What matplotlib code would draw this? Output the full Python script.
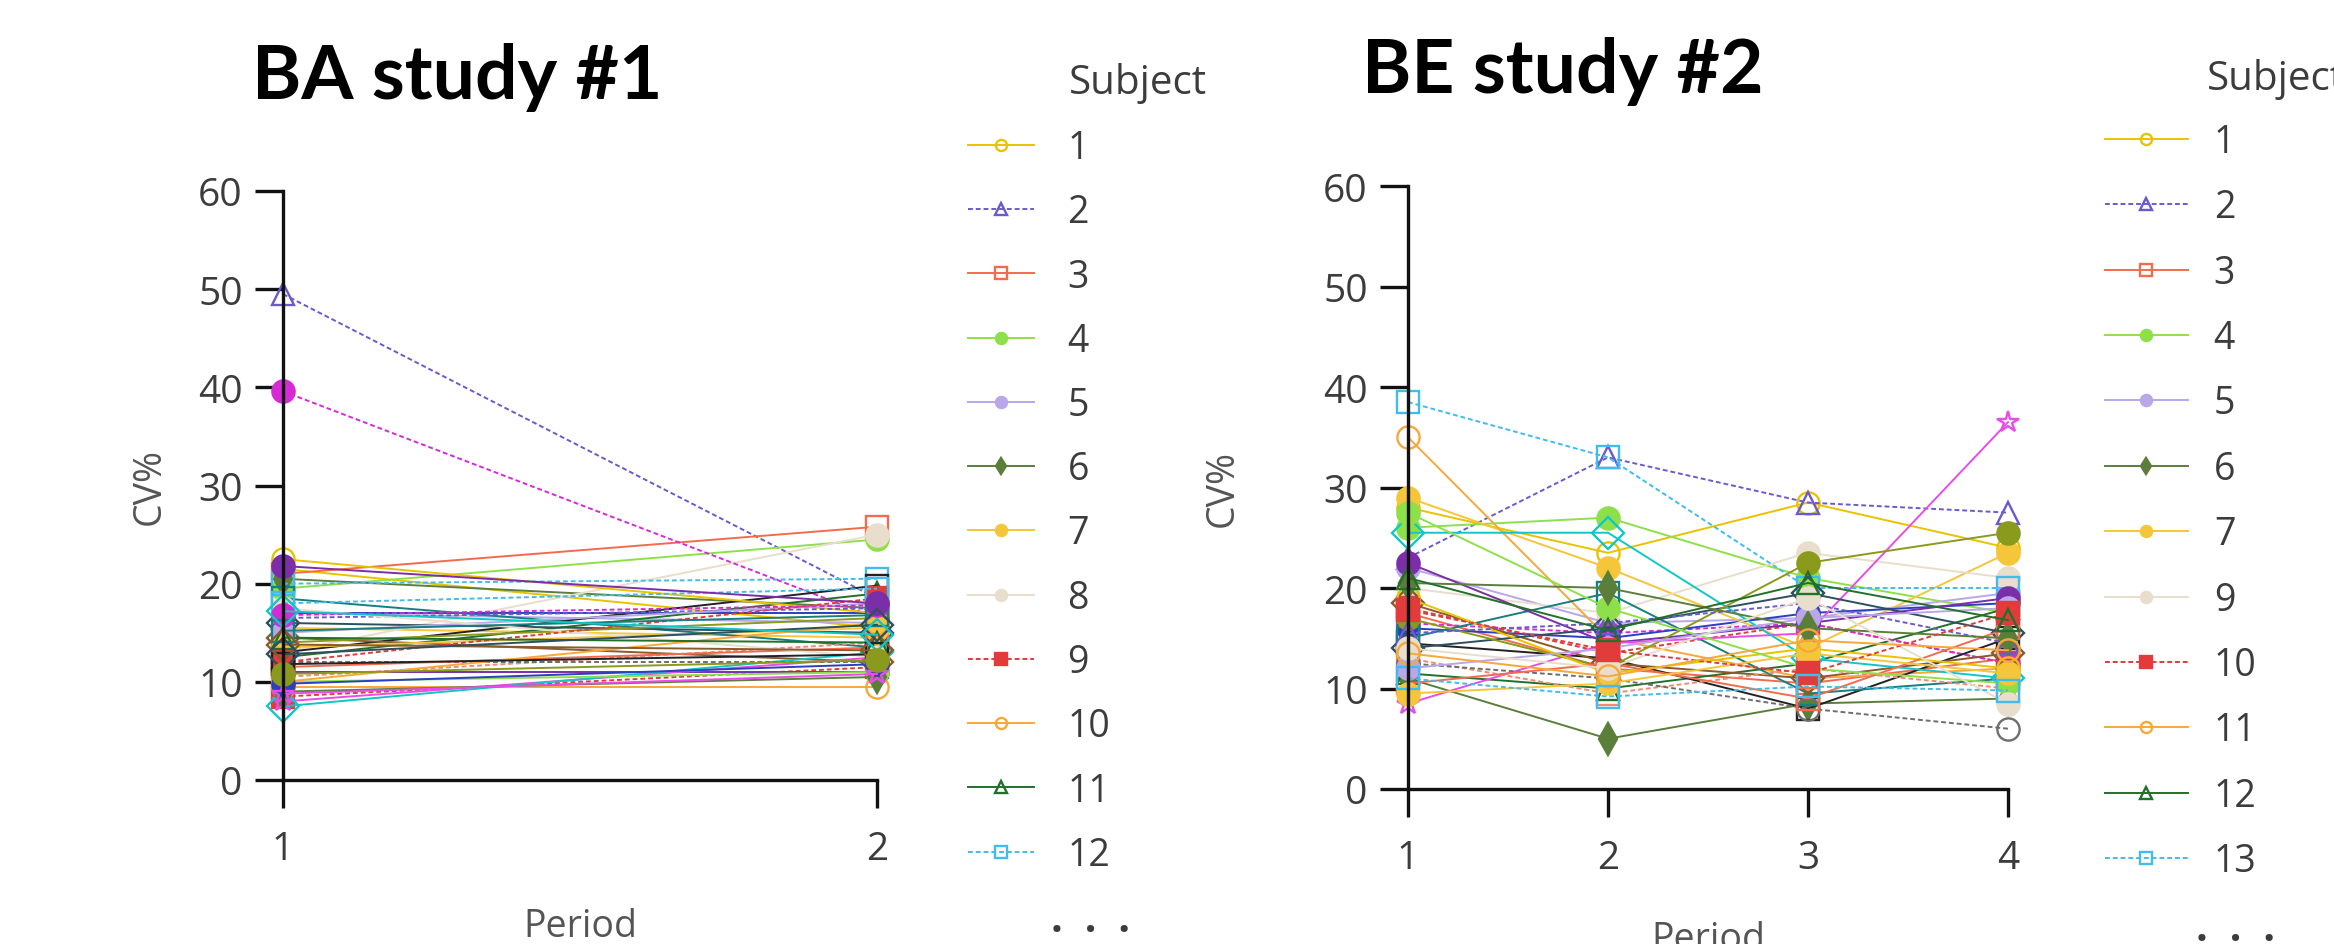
import matplotlib
matplotlib.use("Agg")
import matplotlib.pyplot as plt

plt.rcParams['font.family'] = ['Open Sans', 'DejaVu Sans']

W, H = 2334, 945

# ---- BA study #1: CV% per subject, periods 1 and 2 ----
ba_periods = [1, 2]
ba_subjects = list(range(1, 47))
ba_p1 = [21.5, 49.5, 21.0, 19.5, 17.0, 20.5, 15.5, 13.0, 8.5, 9.5, 12.5, 20.0,
         39.6, 13.0, 17.0, 18.5, 14.5, 11.0, 8.0, 16.0, 7.5, 14.0, 10.5, 12.0,
         22.5, 16.5, 11.5, 10.0, 15.0, 9.0, 13.5, 17.5, 12.0, 10.0, 14.5, 18.0,
         16.8, 11.8, 9.8, 15.2, 13.8, 21.8, 8.8, 12.8, 17.2, 10.8]
ba_p2 = [15.5, 18.5, 25.8, 24.5, 16.0, 17.5, 14.5, 25.0, 11.5, 9.5, 19.0, 20.5,
         16.5, 19.8, 17.0, 13.5, 12.0, 11.0, 12.5, 15.0, 13.0, 16.5, 14.0, 12.0,
         17.0, 17.5, 13.5, 11.0, 18.0, 10.5, 15.5, 12.5, 18.5, 16.0, 14.0, 19.5,
         17.8, 12.8, 11.8, 16.8, 13.2, 18.0, 10.8, 15.8, 14.8, 12.2]

# ---- BE study #2: CV% per subject, periods 1-4 (subject 8 absent) ----
be_periods = [1, 2, 3, 4]
be_subjects = [1, 2, 3, 4, 5, 6, 7] + list(range(9, 38))
be_p1 = [28.0, 23.0, 17.5, 26.0, 22.0, 11.0, 29.0, 20.0, 18.0, 35.0, 11.5, 38.5,
         16.5, 14.5, 16.0, 15.0, 18.5, 22.5, 8.5, 14.0, 25.5, 17.0, 13.0, 12.5,
         19.0, 15.5, 10.5, 27.5, 12.0, 20.5, 9.5, 14.0, 17.8, 13.5, 21.0, 11.0]
be_p2 = [23.5, 33.0, 12.0, 27.0, 16.5, 5.0, 22.0, 17.5, 13.5, 15.0, 10.0, 33.0,
         15.5, 13.0, 15.0, 19.5, 12.5, 14.5, 14.5, 16.0, 25.5, 12.0, 9.5, 11.0,
         11.5, 16.5, 12.5, 18.0, 14.0, 20.0, 10.5, 12.0, 13.8, 11.2, 15.8, 9.2]
be_p3 = [28.5, 28.5, 10.5, 21.0, 17.0, 8.5, 14.0, 23.5, 16.5, 11.0, 12.5, 20.0,
         16.5, 8.0, 17.5, 9.5, 11.0, 16.5, 15.5, 19.5, 13.0, 22.5, 12.0, 8.0,
         14.0, 18.5, 9.0, 12.0, 17.0, 16.0, 13.5, 19.0, 11.5, 14.8, 20.5, 10.2]
be_p4 = [24.0, 27.5, 13.0, 17.5, 19.5, 9.0, 23.5, 21.0, 12.5, 12.0, 18.0, 20.0,
         12.5, 15.0, 18.5, 11.0, 13.5, 19.0, 36.5, 15.5, 11.0, 25.5, 10.0, 6.0,
         12.0, 14.5, 16.0, 10.5, 18.0, 15.0, 11.5, 8.5, 17.5, 13.8, 16.8, 9.8]

# per data-set styles (cycled by data-set index)
colors = ['#E8C300', '#6A5ACD', '#F26B4F', '#8EE04A', '#B9A7EA', '#5B7F3B',
          '#F5C53A', '#E9DDCB', '#E23B3B', '#F6A83A', '#23702A', '#40BDEE',
          '#D52BD5', '#222222', '#2B3FBF', '#14807F', '#8B5A2B', '#7A2FA8',
          '#E84DE8', '#2F4F5F', '#12C6C6', '#8A9A1C', '#F08A70', '#6E6E6E']
markers = ['o', '^', 's', 'o', 'o', 'd', 'o', 'o', 's', 'o', '^', 's',
           'o', 's', 'o', 's', 'D', 'o', '*', 'D', 'D', 'o', 's', 'o']
filled = [False, False, False, True, True, True, True, True, True, False, False, False,
          True, False, True, False, False, True, False, False, False, True, False, False]
dotted = (0, (2.5, 1.5))
styles = ['-', dotted, '-', '-', '-', '-', '-', '-', dotted, '-', '-', dotted,
          dotted, '-', '-', '-', '-', '-', '-', '-', '-', '-', dotted, dotted]

TXT = '#3c3c3c'
FS = 27


def draw_panel(ax, periods, series, subjects, xmax):
    lines = []
    for i, vals in enumerate(series):
        k = i % len(colors)
        c = colors[k]
        ln, = ax.plot(periods, vals, color=c, linestyle=styles[k], linewidth=1.4,
                      marker=markers[k], markersize=16, markeredgewidth=1.7,
                      markerfacecolor=c if filled[k] else 'none', markeredgecolor=c,
                      clip_on=False, label=str(subjects[i]))
        lines.append(ln)
    ax.set_xlim(1, xmax)
    ax.set_ylim(0, 60)
    ax.set_xticks(periods)
    ax.set_yticks([0, 10, 20, 30, 40, 50, 60])
    for s in ['top', 'right']:
        ax.spines[s].set_visible(False)
    for s in ['left', 'bottom']:
        ax.spines[s].set_linewidth(2.4)
        ax.spines[s].set_color('#111111')
    ax.tick_params(direction='out', length=20, width=2.4, color='#111111',
                   labelsize=28, labelcolor=TXT, pad=9)
    ax.tick_params(axis='x', pad=16)
    ax.set_ylabel('CV%', fontsize=FS, color='#555555', va='center')
    ax.set_xlabel('Period', fontsize=FS, color='#555555', va='center')
    return lines


fig = plt.figure(figsize=(W / 100, H / 100), dpi=100)

# left panel
ax1 = fig.add_axes([283 / W, 164 / H, (877 - 283) / W, 589 / H])
ba_series = [[a, b] for a, b in zip(ba_p1, ba_p2)]
l1 = draw_panel(ax1, ba_periods, ba_series, ba_subjects, 2)
ax1.yaxis.set_label_coords(-(283 - 150) / 594, 0.5)
ax1.xaxis.set_label_coords(0.5, -(927 - 781) / 589)

# right panel
ax2 = fig.add_axes([1408 / W, 155 / H, 600 / W, 603 / H])
be_series = [list(v) for v in zip(be_p1, be_p2, be_p3, be_p4)]
l2 = draw_panel(ax2, be_periods, be_series, be_subjects, 4)
ax2.yaxis.set_label_coords(-(1408 - 1223) / 600, 0.5)
ax2.xaxis.set_label_coords(0.5, -(940 - 790) / 603)

# legends (first 12 data sets)
fig.legend(l1[:12], [ln.get_label() for ln in l1[:12]], loc='upper left',
           bbox_to_anchor=(968 / W, 1 - 130 / H), frameon=False, fontsize=FS,
           labelcolor=TXT, handlelength=1.75, handletextpad=0.9, labelspacing=0.70,
           borderpad=0, borderaxespad=0, markerscale=0.5)
fig.legend(l2[:12], [ln.get_label() for ln in l2[:12]], loc='upper left',
           bbox_to_anchor=(2105 / W, 1 - 124 / H), frameon=False, fontsize=FS,
           labelcolor=TXT, handlelength=2.2, handletextpad=0.7, labelspacing=0.73,
           borderpad=0, borderaxespad=0, markerscale=0.5)

fig.text(1069 / W, 1 - 83 / H, 'Subject', fontsize=29, color=TXT, va='center')
fig.text(2207 / W, 1 - 79 / H, 'Subject', fontsize=29, color=TXT, va='center')
fig.text(1091 / W, 1 - 922 / H, '.  .  .', fontsize=30, color=TXT, weight='bold',
         ha='center', va='center')
fig.text(2236 / W, 1 - 931 / H, '.  .  .', fontsize=30, color=TXT, weight='bold',
         ha='center', va='center')

# titles
fig.text(457 / W, 1 - 77 / H, 'BA study #1', fontsize=54, weight='bold',
         family=['Lato', 'DejaVu Sans'], ha='center', va='center')
fig.text(1563 / W, 1 - 71 / H, 'BE study #2', fontsize=54, weight='bold',
         family=['Lato', 'DejaVu Sans'], ha='center', va='center')

fig.savefig('out.png', dpi=100)
